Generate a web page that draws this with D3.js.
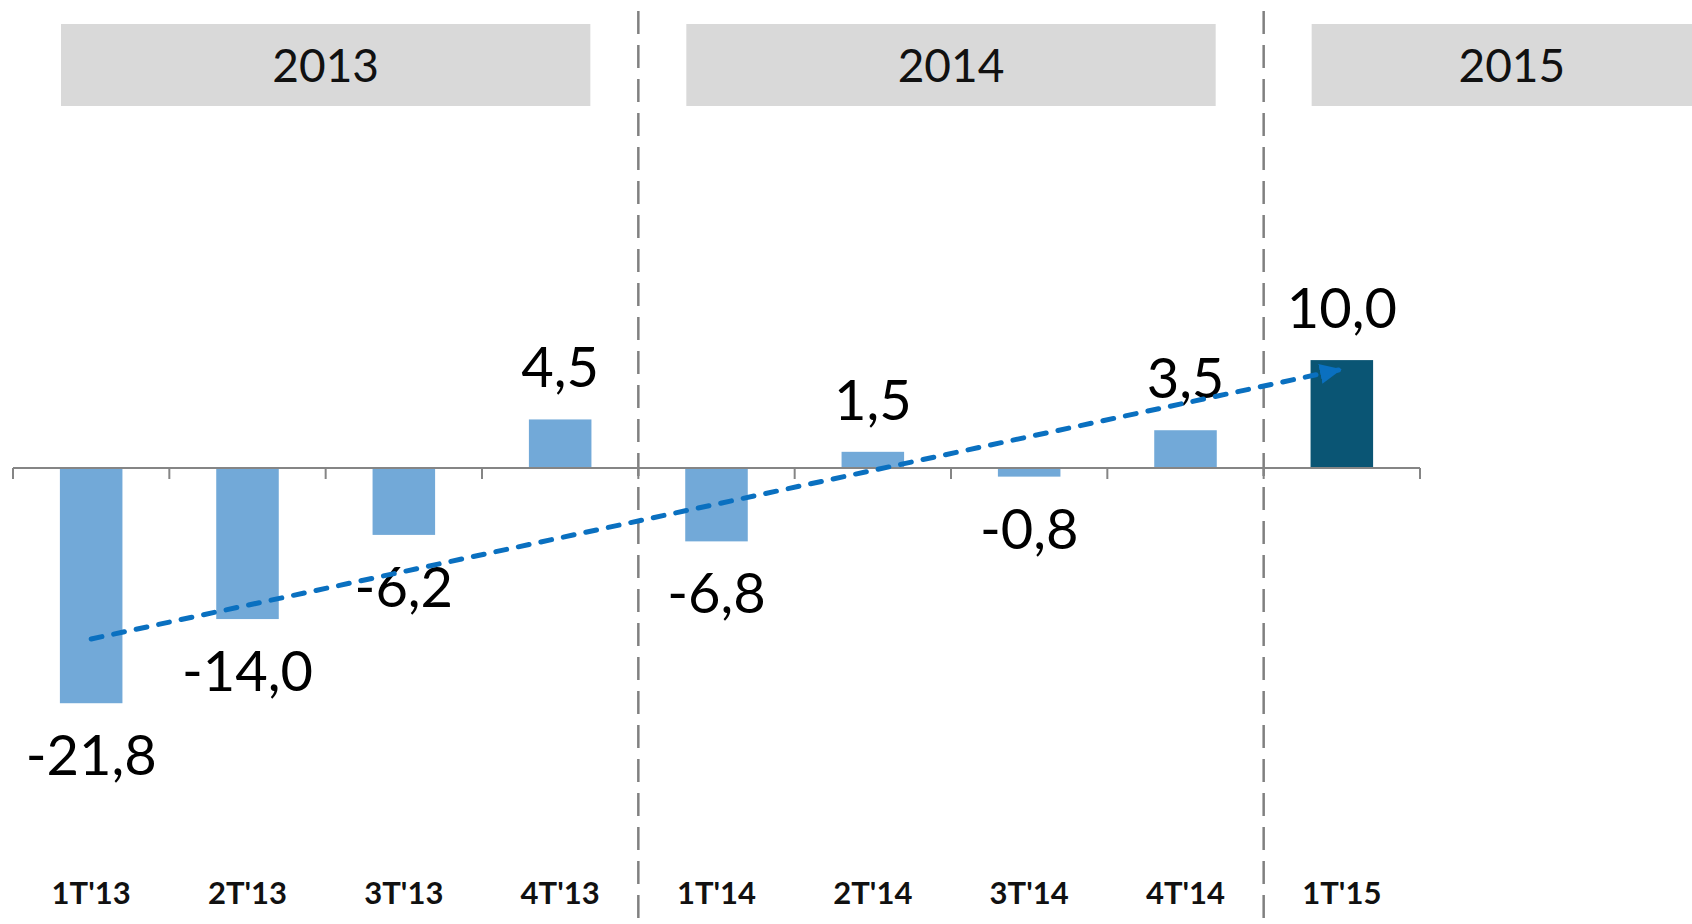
<!DOCTYPE html>
<html>
<head>
<meta charset="utf-8">
<script src="https://cdn.jsdelivr.net/npm/d3@7"></script>
<style>
  html, body { margin: 0; padding: 0; background: #fff; }
  svg { display: block; }
  text { font-family: Lato, "Open Sans", sans-serif; }
</style>
</head>
<body>
<svg id="chart" width="1692" height="924"></svg>
<script>
// quarters and values
var quarters = ["1T'13", "2T'13", "3T'13", "4T'13", "1T'14", "2T'14", "3T'14", "4T'14", "1T'15"];
var values = [-21.8, -14.0, -6.2, 4.5, -6.8, 1.5, -0.8, 3.5, 10.0];
var years = ["2013", "2014", "2015"];
var yearFirstQuarter = [0, 4, 8];

var WIDTH = 1692, HEIGHT = 924;
var BASE = 468, PX_PER_UNIT = 10.79;
var LIGHT = "#72a9d8", DARK = "#0a5574", TREND = "#0a70c0", GREY = "#858585";

var svg = d3.select("#chart");

var x = d3.scaleBand()
  .domain(quarters)
  .range([13, 1420])
  .padding(0);
var step = x.step();

var y = d3.scaleLinear()
  .domain([-25, 12])
  .range([BASE + 25 * PX_PER_UNIT, BASE - 12 * PX_PER_UNIT]);

var fmt = function(v) { return d3.format(".1f")(v).replace(".", ",").replace("−", "-"); };

// year header boxes
var boxInset = 48, boxW = 4 * step - 2 * boxInset;
var headers = svg.append("g").selectAll("g")
  .data(years)
  .join("g");
headers.append("rect")
  .attr("x", function(d, i) { return x(quarters[yearFirstQuarter[i]]) + boxInset; })
  .attr("y", 24)
  .attr("width", boxW)
  .attr("height", 82)
  .attr("fill", "#d9d9d9");
headers.append("text")
  .attr("x", function(d, i) {
    var x0 = x(quarters[yearFirstQuarter[i]]) + boxInset;
    var x1 = Math.min(x0 + boxW, WIDTH + 20);
    return (x0 + x1) / 2;
  })
  .attr("y", 82)
  .attr("text-anchor", "middle")
  .attr("font-size", 46)
  .attr("fill", "#111")
  .text(function(d) { return d; });

// vertical dashed separators between years
svg.append("g").selectAll("line")
  .data(yearFirstQuarter.slice(1))
  .join("line")
  .attr("x1", function(d) { return x(quarters[d]); })
  .attr("x2", function(d) { return x(quarters[d]); })
  .attr("y1", 11)
  .attr("y2", HEIGHT)
  .attr("stroke", "#808080")
  .attr("stroke-width", 2.5)
  .attr("stroke-dasharray", "23,11");

// bars
var barW = step * 0.4;
svg.append("g").selectAll("rect")
  .data(values)
  .join("rect")
  .attr("x", function(d, i) { return x(quarters[i]) + (step - barW) / 2; })
  .attr("y", function(d) { return Math.min(y(d), y(0)); })
  .attr("width", barW)
  .attr("height", function(d) { return Math.abs(y(d) - y(0)); })
  .attr("fill", function(d, i) { return i === quarters.length - 1 ? DARK : LIGHT; });

// category axis at zero with ticks at the band edges
var axisG = svg.append("g");
axisG.append("line")
  .attr("x1", x.range()[0]).attr("x2", x.range()[1])
  .attr("y1", y(0)).attr("y2", y(0))
  .attr("stroke", GREY).attr("stroke-width", 2);
var edges = d3.range(quarters.length + 1).map(function(i) { return x.range()[0] + i * step; });
axisG.selectAll(".tick")
  .data(edges)
  .join("line")
  .attr("class", "tick")
  .attr("x1", function(d) { return d; }).attr("x2", function(d) { return d; })
  .attr("y1", y(0)).attr("y2", y(0) + 11)
  .attr("stroke", GREY).attr("stroke-width", 2);

// quarter labels at the bottom
svg.append("g").selectAll("text")
  .data(quarters)
  .join("text")
  .attr("x", function(d) { return x(d) + step / 2; })
  .attr("y", 904)
  .attr("text-anchor", "middle")
  .attr("font-size", 31)
  .attr("font-weight", "bold")
  .attr("fill", "#111")
  .text(function(d) { return d; });

// value labels
svg.append("g").selectAll("text")
  .data(values)
  .join("text")
  .attr("x", function(d, i) { return x(quarters[i]) + step / 2; })
  .attr("y", function(d) { return d < 0 ? y(d) + 72 : y(d) - 32; })
  .attr("text-anchor", "middle")
  .attr("font-size", 56)
  .attr("fill", "#000")
  .text(function(d) { return fmt(d); });

// linear trend line over the quarters, with an arrow head
var idx = d3.range(values.length);
var mx = d3.mean(idx), my = d3.mean(values);
var slope = d3.sum(idx, function(i) { return (i - mx) * (values[i] - my); }) /
            d3.sum(idx, function(i) { return (i - mx) * (i - mx); });
var icpt = my - slope * mx;
var trendPts = [0, values.length - 1].map(function(i) {
  return [x(quarters[i]) + step / 2, y(icpt + slope * i)];
});

svg.append("defs").append("marker")
  .attr("id", "arrow")
  .attr("markerUnits", "userSpaceOnUse")
  .attr("markerWidth", 24).attr("markerHeight", 22)
  .attr("refX", 22).attr("refY", 10)
  .attr("orient", "auto")
  .append("path")
  .attr("d", "M0,0 L22,10 L0,20 Z")
  .attr("fill", TREND);

svg.append("path")
  .attr("d", d3.line()(trendPts))
  .attr("fill", "none")
  .attr("stroke", TREND)
  .attr("stroke-width", 5)
  .attr("stroke-linecap", "round")
  .attr("stroke-dasharray", "11,12")
  .attr("marker-end", "url(#arrow)");
</script>
</body>
</html>
